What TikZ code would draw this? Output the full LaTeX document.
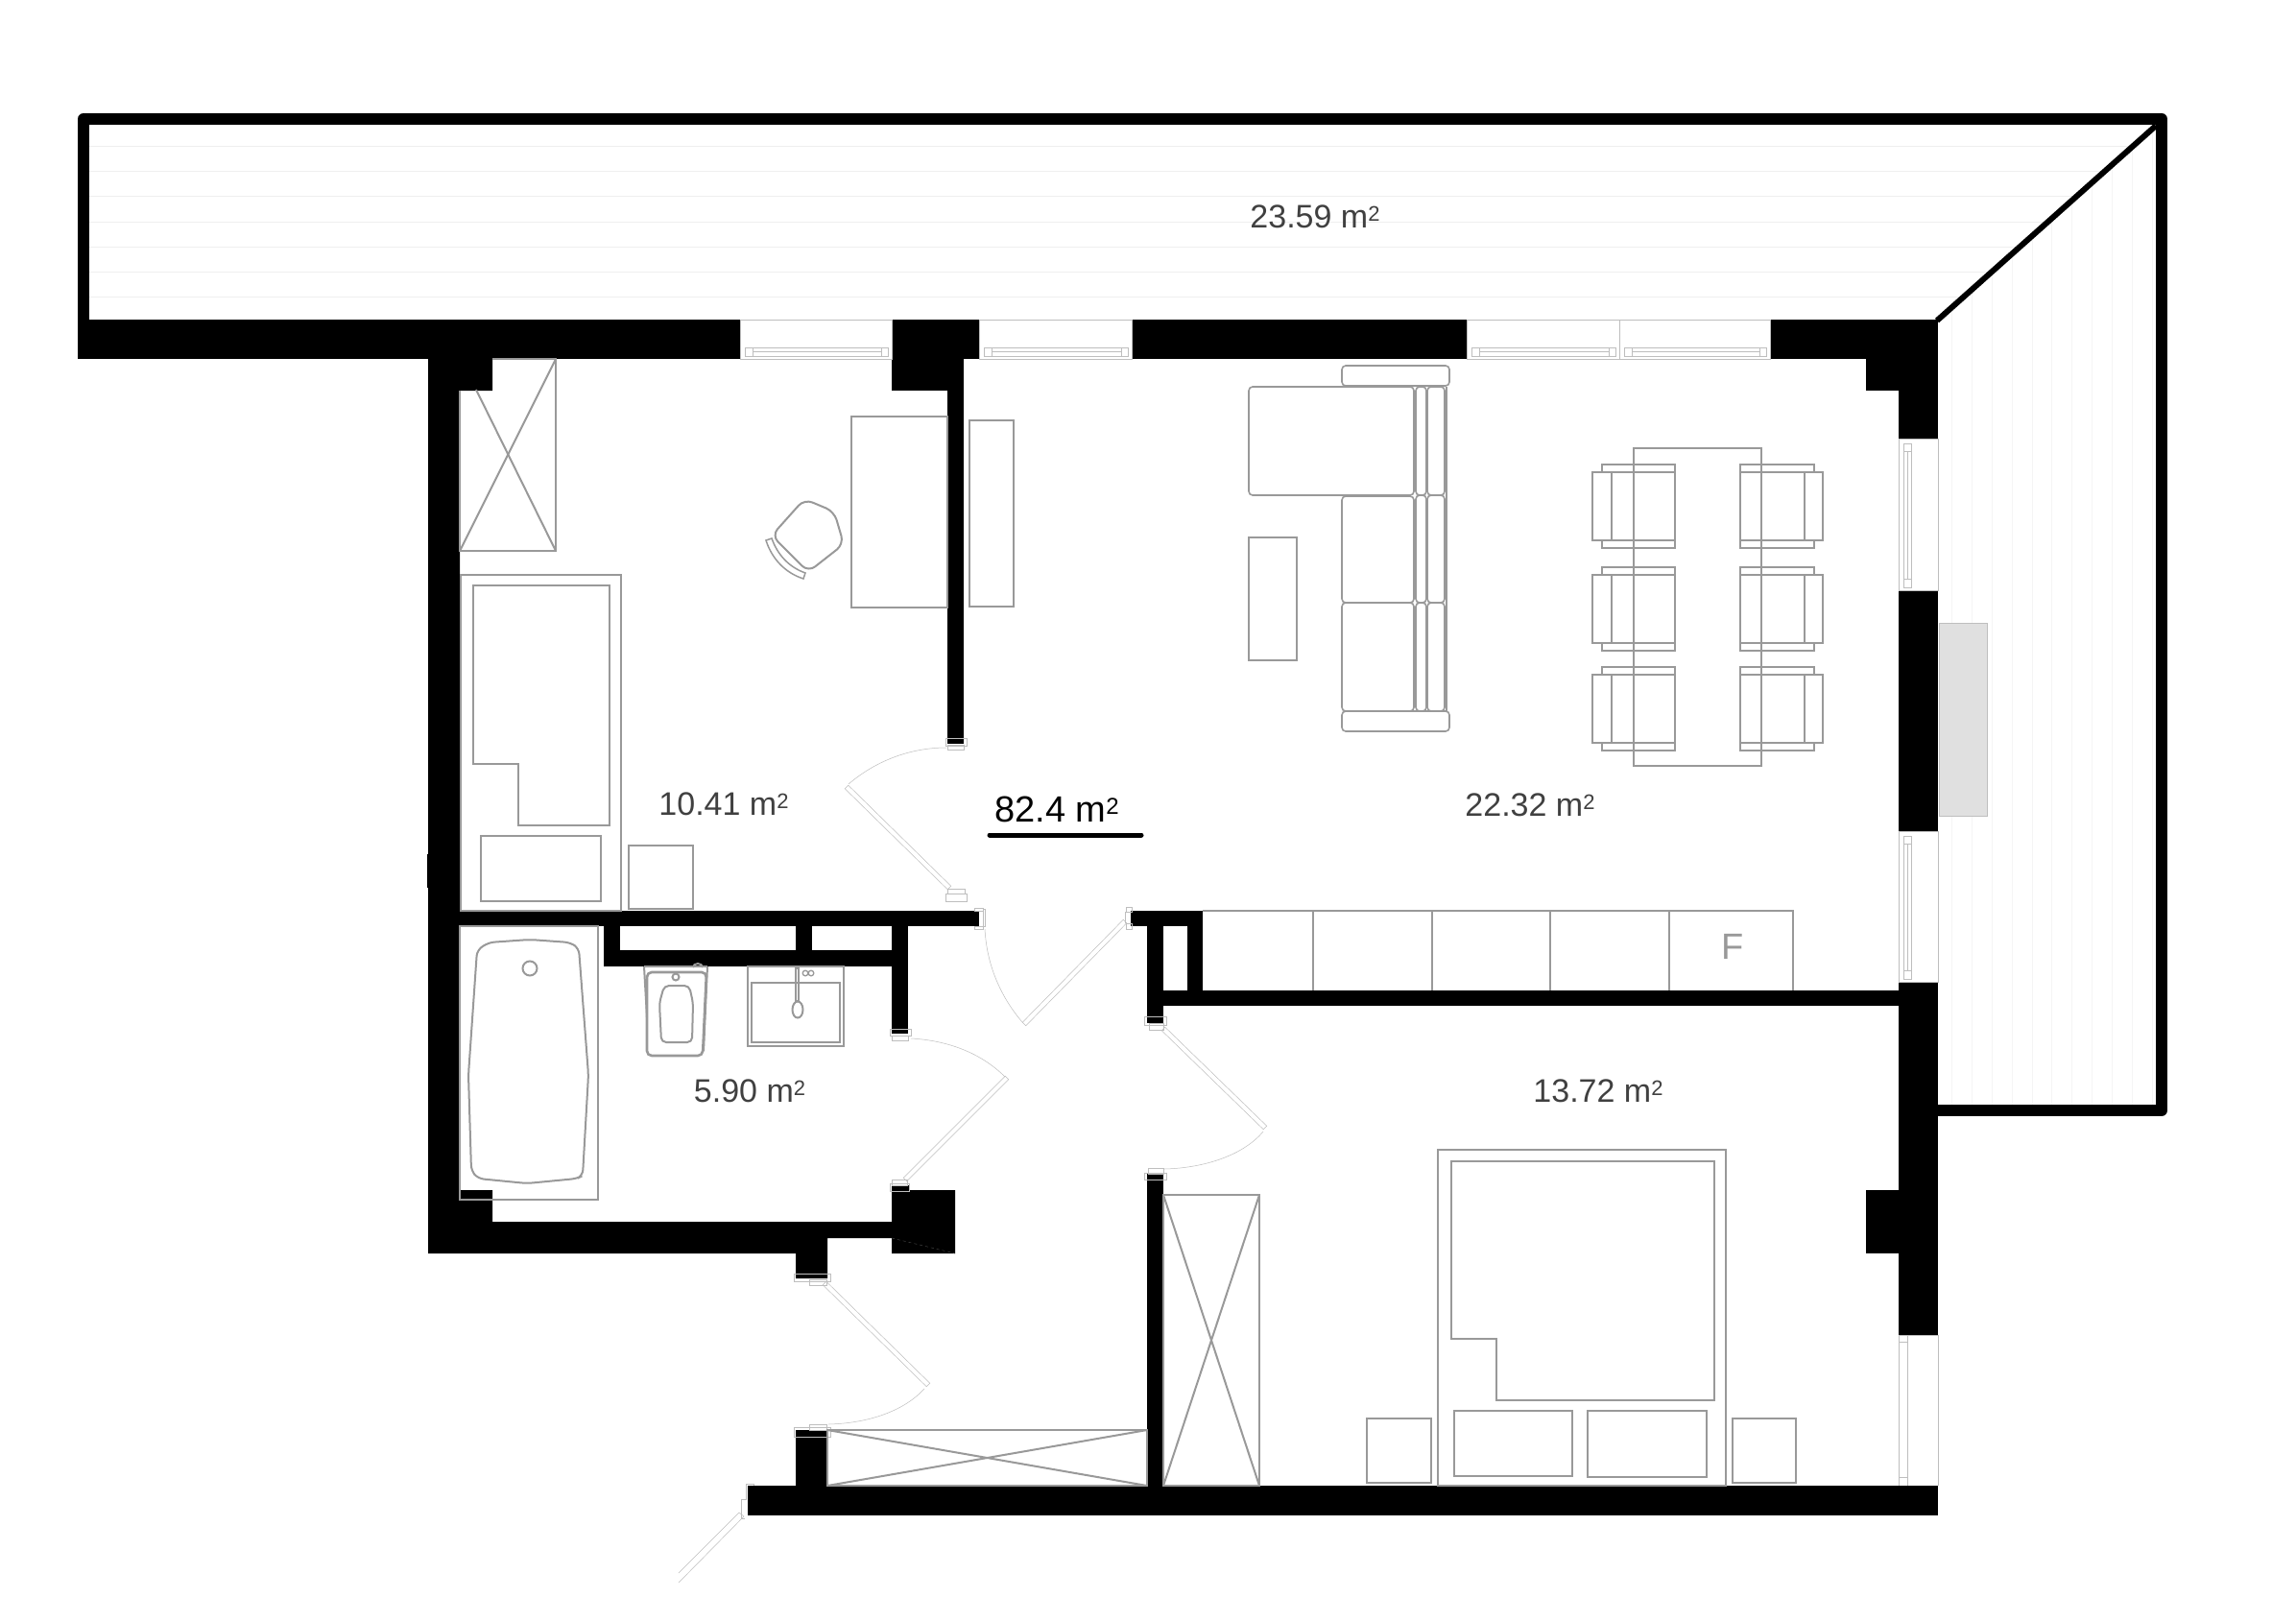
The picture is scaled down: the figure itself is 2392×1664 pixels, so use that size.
\documentclass[tikz,border=0pt]{standalone}
\usepackage{fontspec}
\setmainfont{Liberation Sans}
\usetikzlibrary{calc}
\definecolor{furncol}{HTML}{999999}
\definecolor{thincol}{HTML}{BEBEBE}
\definecolor{hatchcol}{HTML}{EFEFEF}
\definecolor{hatchcolb}{HTML}{F5F5F5}
\definecolor{textcol}{HTML}{404040}
\tikzset{
  furn/.style={draw=furncol,line width=2pt},
  sofa/.style={draw=furncol,line width=1.6pt,rounded corners=4pt},
  thinl/.style={draw=thincol,line width=0.5pt},
  wall/.style={fill=black},
  hatch/.style={draw=hatchcol,line width=1pt},
  area/.style={inner sep=0pt,text=textcol,font=\fontsize{34}{34}\selectfont},
}
\newcommand{\msq}[1]{#1 m{\fontsize{22}{22}\selectfont\raisebox{7pt}{2}}}
\newcommand{\doorleaf}[2]{\draw[thinl] ($(#1)!2.5pt!90:(#2)$) -- ($(#2)!2.5pt!-90:(#1)$) -- ($(#2)!2.5pt!90:(#1)$) -- ($(#1)!2.5pt!-90:(#2)$) -- cycle;}
\newcommand{\northwin}[2]{
  \draw[thinl] (#1,333) -- (#2,333);
  \draw[thinl] (#1,333) -- (#1,374) -- (#2,374) -- (#2,333);
  \draw[thinl] (#1+5,362) rectangle (#2-4,371);
  \draw[thinl] (#1+13,362) -- (#1+13,371);
  \draw[thinl] (#2-11,362) -- (#2-11,371);
  \draw[thinl] (#1+13,366.5) -- (#2-11,366.5);
}
\newcommand{\eastwin}[2]{
  \draw[thinl] (1978,#1) -- (2019,#1) -- (2019,#2) -- (1978,#2) -- cycle;
  \draw[thinl] (1983,#1+5) rectangle (1991,#2-3);
  \draw[thinl] (1983,#1+13) -- (1991,#1+13);
  \draw[thinl] (1983,#2-12) -- (1991,#2-12);
  \draw[thinl] (1987,#1+13) -- (1987,#2-12);
}
\newcommand{\dinechair}[1]{
  \draw[furn] (1659,#1) rectangle (1745,#1+71);
  \draw[furn] (1679,#1) -- (1679,#1+71);
  \draw[furn] (1669,#1) -- (1669,#1-8) -- (1745,#1-8) -- (1745,#1);
  \draw[furn] (1669,#1+71) -- (1669,#1+79) -- (1745,#1+79) -- (1745,#1+71);
  \draw[furn] (1813,#1) rectangle (1899,#1+71);
  \draw[furn] (1880,#1) -- (1880,#1+71);
  \draw[furn] (1813,#1) -- (1813,#1-8) -- (1890,#1-8) -- (1890,#1);
  \draw[furn] (1813,#1+71) -- (1813,#1+79) -- (1890,#1+79) -- (1890,#1+71);
}
\begin{document}
\begin{tikzpicture}[x=1pt,y=-1pt]
\useasboundingbox (0,0) rectangle (2392,1664);
\fill[white] (0,0) rectangle (2392,1664);
% terrace
\begin{scope}
\clip (93,130) -- (2246,130) -- (2018,334) -- (93,334) -- cycle;
\foreach \yy in {153,179,205,231,257,283,309} \draw[hatch] (93,\yy) -- (2246,\yy);
\end{scope}
\begin{scope}
\clip (2019,334) -- (2246,132) -- (2246,1151) -- (2019,1151) -- cycle;
\foreach \xx in {2033,2054,2075,2096,2117,2137,2158,2179,2200,2221,2242} \draw[hatch,draw=hatchcolb] (\xx,130) -- (\xx,1151);
\end{scope}
\draw[line width=12pt,line join=round] (87,340) -- (87,124) -- (2252,124) -- (2252,1157) -- (2019,1157);
\draw[line width=6pt] (2018,334) -- (2246,131);
\fill[fill=black!12,draw=thincol] (2020,649) rectangle (2070,850);
% walls
\fill[wall] (81,333) rectangle (771,374);
\fill[wall] (929,333) rectangle (1020,374);
\fill[wall] (929,374) rectangle (1004,407);
\fill[wall] (987,407) rectangle (1004,775);
\fill[wall] (1179,333) rectangle (1528,374);
\fill[wall] (1844,333) rectangle (2019,374);
\fill[wall] (1944,374) rectangle (2019,407);
\fill[wall] (1978,407) rectangle (2019,457);
\fill[wall] (1978,615) rectangle (2019,866);
\fill[wall] (1978,1023) rectangle (2019,1391);
\fill[wall] (1944,1240) rectangle (1978,1306);
\fill[wall] (446,374) -- (513,374) -- (513,407) -- (479,407) -- (479,1240) -- (513,1240) -- (513,1273) -- (929,1273) -- (929,1235) -- (947,1235) -- (947,1240) -- (995,1240) -- (995,1306) -- (929,1306) -- (929,1290) -- (862,1290) -- (862,1332) -- (829,1332) -- (829,1306) -- (446,1306) -- cycle;
\fill[wall] (445,890) rectangle (446,925);
\fill[wall] (479,949) rectangle (1020,965);
\fill[wall] (629,965) rectangle (646,1007);
\fill[wall] (646,990) rectangle (929,1007);
\fill[wall] (829,965) rectangle (846,990);
\fill[wall] (929,965) rectangle (946,1077);
\fill[wall] (1178,949) rectangle (1253,965);
\fill[wall] (1237,965) rectangle (1253,1032);
\fill[wall] (1195,965) rectangle (1212,1066);
\fill[wall] (1212,1032) rectangle (1979,1048);
\fill[wall] (1195,1223) rectangle (1212,1548);
\fill[wall] (829,1490) rectangle (862,1548);
\fill[wall] (779,1548) rectangle (2019,1579);
\draw[draw=black!75,line width=0.5pt,dashed] (929,1290) -- (995,1306);
% windows
\northwin{771}{929}
\northwin{1020}{1179}
\northwin{1528}{1687}
\northwin{1687}{1844}
\eastwin{457}{615}
\eastwin{866}{1023}
\draw[thinl] (1978,1391) -- (2019,1391) -- (2019,1548);
\draw[thinl] (1978,1391) -- (1978,1548);
\draw[thinl] (1987,1391) -- (1987,1548);
\draw[thinl] (1978,1398) -- (1987,1398);
\draw[thinl] (1978,1539) -- (1987,1539);
% doors
\coordinate (bedAa) at (989,925);
\coordinate (bedAb) at (882,820);
\doorleaf{bedAa}{bedAb}
\draw[thinl] (884,817) .. controls (912,793) and (948,779) .. (986,779);
\draw[thinl] (985,769) rectangle (1007,777);
\draw[thinl] (987,776) rectangle (1004,781);
\draw[thinl] (985,931) rectangle (1007,939);
\draw[thinl] (987,926) rectangle (1005,931);
\coordinate (hallAa) at (1172,960);
\coordinate (hallAb) at (1067,1067);
\doorleaf{hallAa}{hallAb}
\draw[thinl] (1026,968) .. controls (1028,1005) and (1042,1038) .. (1065,1065);
\draw[thinl] (1015,946) rectangle (1024,949);
\draw[thinl] (1024,947) rectangle (1026,965);
\draw[thinl] (1015,965) rectangle (1024,968);
\draw[thinl] (1173,945) rectangle (1179,950);
\draw[thinl] (1173,962) rectangle (1179,968);
\draw[thinl] (1172,950) -- (1172,962);
\coordinate (bathDa) at (943,1229);
\coordinate (bathDb) at (1049,1123);
\doorleaf{bathDa}{bathDb}
\draw[thinl] (949,1082) .. controls (987,1084) and (1022,1097) .. (1047,1122);
\draw[thinl] (927,1072) rectangle (949,1079);
\draw[thinl] (929,1079) rectangle (946,1084);
\draw[thinl] (927,1233) rectangle (947,1241);
\draw[thinl] (929,1229) rectangle (945,1235);
\coordinate (entrDa) at (859,1337);
\coordinate (entrDb) at (967,1443);
\doorleaf{entrDa}{entrDb}
\draw[thinl] (863,1484) .. controls (905,1483) and (942,1470) .. (963,1447);
\draw[thinl] (827,1327) rectangle (865,1335);
\draw[thinl] (843,1333) rectangle (861,1339);
\draw[thinl] (827,1487) rectangle (865,1497);
\draw[thinl] (843,1484) rectangle (861,1490);
\coordinate (nightDa) at (1212,1072);
\coordinate (nightDb) at (1318,1175);
\doorleaf{nightDa}{nightDb}
\draw[thinl] (1213,1218) .. controls (1256,1217) and (1296,1203) .. (1316,1179);
\draw[thinl] (1192,1059) rectangle (1215,1068);
\draw[thinl] (1197,1066) rectangle (1212,1073);
\draw[thinl] (1192,1222) rectangle (1215,1229);
\draw[thinl] (1196,1217) rectangle (1212,1223);
\draw[thinl] (770,1576) -- (707,1639);
\draw[thinl] (775,1580) -- (707,1649);
\draw[thinl] (770,1576) -- (775,1580);
\draw[thinl] (785,1548) -- (785,1546) -- (777,1546) -- (777,1562) -- (772,1562) -- (772,1582) -- (776,1582);
% bedroom left
\draw[furn] (479,407) -- (479,574) -- (579,574) -- (579,374) -- (513,374);
\draw[furn] (479,574) -- (579,374);
\draw[furn] (496,406) -- (579,574);
\draw[furn] (480,599) rectangle (647,949);
\draw[furn] (493,610) -- (635,610) -- (635,860) -- (540,860) -- (540,796) -- (493,796) -- cycle;
\draw[furn] (501,871) rectangle (626,939);
\draw[furn] (655,881) rectangle (722,947);
\draw[furn] (887,434) rectangle (987,633);
\draw[furn] (1010,438) rectangle (1056,632);
\draw[furn,rounded corners=9pt] (838,520) -- (869,533) -- (879,567) -- (842,596) -- (804,558) -- cycle;
\draw[furn,line width=1.5pt] (798,563) .. controls (804,582) and (818,597) .. (837,603) -- (839,597) .. controls (822,591) and (810,578) .. (804,561) -- cycle;
% bathroom
\draw[furn] (479,965) rectangle (623,1250);
\draw[furn,rounded corners=6pt] (509,982) -- (552,979) -- (594,982) -- (603,988) -- (613,1120) -- (607,1225) -- (601,1228) -- (549,1233) -- (498,1228) -- (491,1220) -- (488,1120) -- (497,990) -- cycle;
\draw[furn] (552,1009) circle (7.5);
\draw[furn] (671,1007) -- (737,1007);
\draw[furn,line width=2.6pt,rounded corners=5pt] (674,1013) -- (736,1013) -- (732,1100) -- (674,1100) -- cycle;
\draw[furn] (671,1007) -- (674,1060);
\draw[furn] (737,1007) -- (733,1095);
\draw[furn,rounded corners=5pt] (692,1027) -- (718,1027) -- (722,1045) -- (721,1086) -- (689,1086) -- (687,1045) -- cycle;
\draw[furn] (704,1018) circle (3.5);
\draw[furn] (722,1008) arc (180:0:5 and -4);
\draw[furn] (779,1007) rectangle (879,1090);
\draw[furn] (783,1024) rectangle (875,1086);
\draw[furn] (829,1009) rectangle (832,1043);
\draw[furn,fill=white] (831,1052) ellipse (5.5 and 8.5);
\draw[furn,line width=1.3pt] (839,1014) circle (2.8);
\draw[furn,line width=1.3pt] (845,1014) circle (2.8);
% entrance
\draw[furn] (862,1490) rectangle (1195,1548);
\draw[furn] (862,1490) -- (1195,1548);
\draw[furn] (862,1548) -- (1195,1490);
% sofa
\draw[sofa] (1398,381) rectangle (1510,402);
\draw[sofa] (1301,403) rectangle (1473,516);
\draw[sofa] (1398,517) rectangle (1473,628);
\draw[sofa] (1398,628) rectangle (1473,741);
\foreach \yy/\zz in {403/516,516/628,628/741} {
  \draw[sofa] (1475,\yy) rectangle (1486,\zz);
  \draw[sofa] (1487,\yy) rectangle (1505,\zz);
}
\draw[furn,line width=1.6pt] (1507,403) -- (1507,741);
\draw[sofa] (1398,741) rectangle (1510,762);
\draw[furn] (1301,560) rectangle (1351,688);
% dining
\dinechair{492}
\dinechair{599}
\dinechair{703}
\draw[furn] (1702,467) rectangle (1835,798);
% kitchen
\draw[furn] (1253,949) -- (1868,949) -- (1868,1032);
\foreach \xx in {1368,1492,1615,1739} \draw[furn,line width=1.5pt] (\xx,949) -- (\xx,1032);
\node[inner sep=0pt,text=furncol,font=\fontsize{38}{38}\selectfont] (fridge) at (1805,986) {F};
% bedroom right
\draw[furn] (1212,1245) rectangle (1312,1548);
\draw[furn] (1212,1245) -- (1312,1548);
\draw[furn] (1212,1548) -- (1312,1245);
\draw[furn] (1498,1198) rectangle (1798,1548);
\draw[furn] (1512,1210) -- (1786,1210) -- (1786,1459) -- (1559,1459) -- (1559,1395) -- (1512,1395) -- cycle;
\draw[furn] (1515,1470) rectangle (1638,1538);
\draw[furn] (1654,1470) rectangle (1778,1539);
\draw[furn] (1424,1478) rectangle (1491,1545);
\draw[furn] (1805,1478) rectangle (1871,1545);
% labels
\node[area] (terrace) at (1370,226) {\msq{23.59}};
\node[area] (roomA) at (754,838) {\msq{10.41}};
\node[area] (roomB) at (1594,839) {\msq{22.32}};
\node[area] (roomC) at (781,1137) {\msq{5.90}};
\node[area] (roomD) at (1665,1137) {\msq{13.72}};
\node[inner sep=0pt,font=\fontsize{38}{38}\selectfont] (total) at (1101,843) {82.4 m{\fontsize{24}{24}\selectfont\raisebox{8pt}{2}}};
\draw[line width=5pt,line cap=round] (1031,870) -- (1189,870);
\end{tikzpicture}
\end{document}
